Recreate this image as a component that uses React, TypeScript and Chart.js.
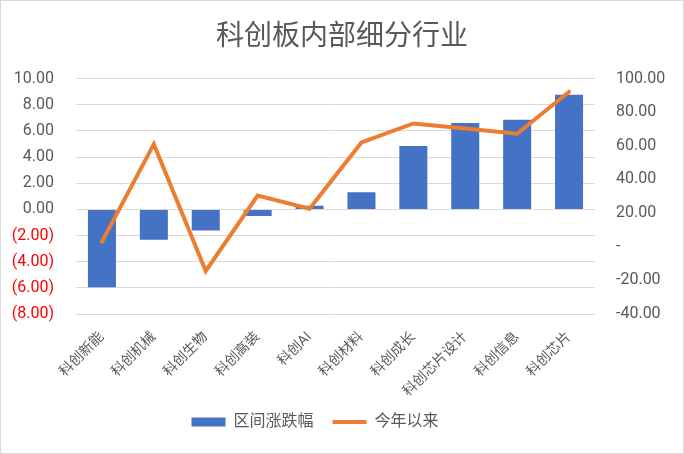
import { useEffect, useRef } from "react";
import { Chart, registerables } from "chart.js";

Chart.register(...registerables);

const categories = ["科创新能", "科创机械", "科创生物", "科创高装", "科创AI", "科创材料", "科创成长", "科创芯片设计", "科创信息", "科创芯片"];
// 区间涨跌幅 (left axis)
const periodChange = [-5.95, -2.33, -1.62, -0.5, 0.28, 1.31, 4.85, 6.6, 6.85, 8.77];
// 今年以来 (right axis)
const ytdChange = [3.0, 61.0, -14.4, 30.4, 22.6, 62.0, 73.3, 70.3, 67.2, 92.2];

const FONT = "Roboto, 'Noto Sans CJK SC', sans-serif";
const GREY = "#595959";

// Excel puts the legend a bit left of centre
const legendShift = {
  id: "legendShift",
  afterLayout(chart: any) {
    if (chart.legend) {
      chart.legend.left -= 27;
      chart.legend.right -= 27;
    }
  },
};

export default function App() {
  const chartRef = useRef<HTMLCanvasElement>(null);
  const chartInstance = useRef<Chart | null>(null);

  useEffect(() => {
    if (!chartRef.current) return;
    if (chartInstance.current) chartInstance.current.destroy();

    chartInstance.current = new Chart(chartRef.current, {
      type: "bar",
      data: {
        labels: categories,
        datasets: [
          {
            type: "bar",
            label: "区间涨跌幅",
            data: periodChange,
            backgroundColor: "#4472C4",
            yAxisID: "y",
            order: 2,
            barPercentage: 0.54,
            categoryPercentage: 1,
          },
          {
            type: "line",
            label: "今年以来",
            data: ytdChange,
            borderColor: "#ED7D31",
            backgroundColor: "#ED7D31",
            borderWidth: 4,
            borderCapStyle: "round",
            pointRadius: 0,
            tension: 0,
            yAxisID: "y1",
            order: 1,
          },
        ],
      } as any,
      plugins: [legendShift],
      options: {
        responsive: true,
        maintainAspectRatio: false,
        animation: false,
        layout: { padding: { top: 0, left: 0, right: 0, bottom: 13 } },
        plugins: {
          title: {
            display: true,
            text: "科创板内部细分行业",
            color: GREY,
            font: { family: FONT, size: 28, weight: "normal" },
            padding: { top: 20, bottom: 24 },
          },
          legend: {
            position: "bottom",
            labels: {
              usePointStyle: true,
              pointStyleWidth: 34,
              boxHeight: 9,
              padding: 19,
              color: GREY,
              font: { family: FONT, size: 16 },
              sort: (a: any, b: any) => a.datasetIndex - b.datasetIndex,
              generateLabels: (chart: any) => {
                const items = Chart.defaults.plugins.legend.labels.generateLabels(chart);
                return items.map((it: any) => ({
                  ...it,
                  pointStyle: it.datasetIndex === 0 ? "rect" : "line",
                  lineWidth: it.datasetIndex === 0 ? 0 : 4,
                }));
              },
            },
          },
          tooltip: { enabled: false },
        },
        scales: {
          x: {
            grid: { display: false },
            border: { display: false },
            ticks: {
              color: GREY,
              font: { family: FONT, size: 14 },
              minRotation: 45,
              maxRotation: 45,
              padding: 7,
              autoSkip: false,
            },
            afterFit: (scale: any) => {
              scale.height = 81;
            },
          },
          y: {
            position: "left",
            min: -8,
            max: 10,
            grid: { color: "#D9D9D9", lineWidth: 1, drawTicks: false },
            border: { display: false },
            ticks: {
              stepSize: 2,
              padding: 22,
              font: { family: FONT, size: 16 },
              color: (ctx: any) => (ctx.tick && ctx.tick.value < 0 ? "#FF0000" : GREY),
              callback: (v: any) => (v < 0 ? `(${Math.abs(v).toFixed(2)})` : Number(v).toFixed(2)),
            },
            afterFit: (scale: any) => {
              scale.width = 75;
            },
          },
          y1: {
            position: "right",
            min: -40,
            max: 100,
            grid: { display: false, drawTicks: false },
            border: { display: false },
            ticks: {
              stepSize: 20,
              padding: 21,
              color: GREY,
              font: { family: FONT, size: 16 },
              callback: (v: any) => (v === 0 ? "-" : Number(v).toFixed(2)),
            },
            afterFit: (scale: any) => {
              scale.width = 88;
            },
          },
        },
      } as any,
    });

    return () => {
      if (chartInstance.current) {
        chartInstance.current.destroy();
        chartInstance.current = null;
      }
    };
  }, []);

  return (
    <div
      style={{
        position: "fixed",
        left: 0,
        top: 0,
        width: 684,
        height: 454,
        boxSizing: "border-box",
        border: "1px solid #D9D9D9",
        background: "#ffffff",
      }}
    >
      <div style={{ position: "relative", width: 682, height: 452 }}>
        <canvas ref={chartRef}></canvas>
      </div>
    </div>
  );
}
